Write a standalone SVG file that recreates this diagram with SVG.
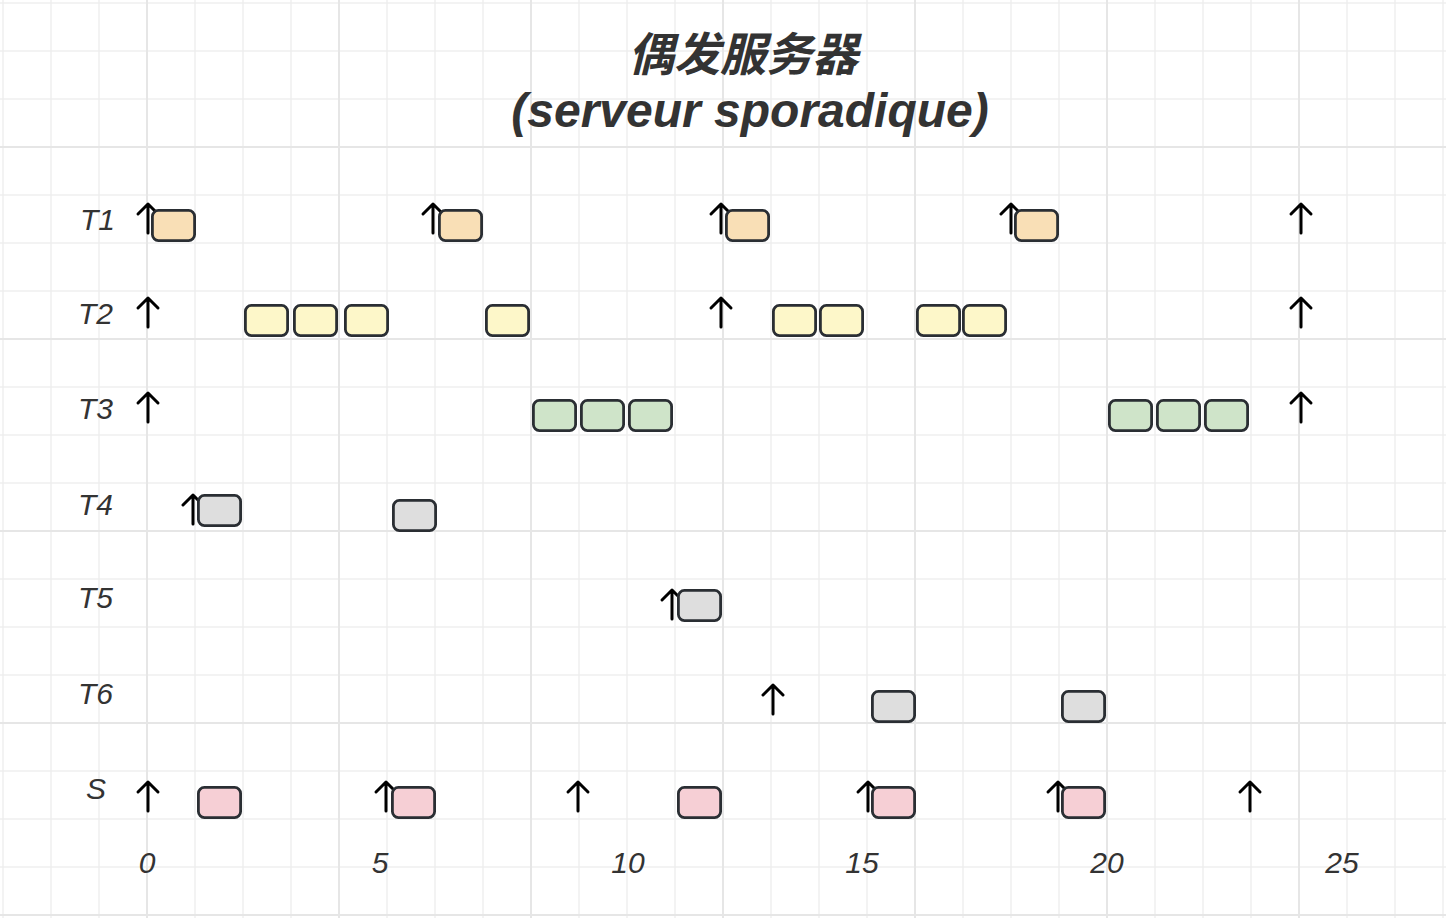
<svg xmlns="http://www.w3.org/2000/svg" width="1446" height="918" viewBox="0 0 1446 918">
<style>
.minor{stroke:#efefef;stroke-width:1.5;fill:none}
.major{stroke:#e6e6e6;stroke-width:2;fill:none}
.box{stroke:#2a2e33;stroke-width:2.8}
.o{fill:#f9dfb6}.y{fill:#fdf7c9}.g{fill:#cfe4c9}.k{fill:#dedede}.p{fill:#f6cfd5}
.arr{stroke:#000;stroke-width:3;fill:none;stroke-linecap:round;stroke-linejoin:round}
.lbl{font-family:"Liberation Sans",Arial,sans-serif;font-style:italic;font-size:30px;fill:#333}
.title{font-family:"Liberation Sans","Noto Sans CJK SC",sans-serif;font-style:italic;font-weight:bold;font-size:46px;fill:#333;text-anchor:middle}
.sub{font-size:48px}
</style>
<defs>
<rect id="b" class="box" x="1.4" y="1.4" width="42.2" height="30.2" rx="6"/>
<path id="a" d="M0 29V0M-10 10L0 0L10 10"/>
</defs>
<rect width="1446" height="918" fill="#fff"/>
<g id="grid">
<path class="minor" d="M3 0V918M51 0V918M99 0V918M195 0V918M243 0V918M291 0V918M387 0V918M435 0V918M483 0V918M579 0V918M627 0V918M675 0V918M771 0V918M819 0V918M867 0V918M963 0V918M1011 0V918M1059 0V918M1155 0V918M1203 0V918M1251 0V918M1347 0V918M1395 0V918M1443 0V918M0 3H1446M0 51H1446M0 99H1446M0 195H1446M0 243H1446M0 291H1446M0 387H1446M0 435H1446M0 483H1446M0 579H1446M0 627H1446M0 675H1446M0 771H1446M0 819H1446M0 867H1446"/>
<path class="major" d="M147 0V918M339 0V918M531 0V918M723 0V918M915 0V918M1107 0V918M1299 0V918M0 147H1446M0 339H1446M0 531H1446M0 723H1446M0 915H1446"/>
</g>
<g id="title">
<text class="title" x="743" y="71">偶发服务器</text>
<text class="title sub" x="750" y="127">(serveur sporadique)</text>
</g>
<g id="row-labels" class="lbl">
<text x="80" y="230">T1</text>
<text x="78" y="324">T2</text>
<text x="78" y="419">T3</text>
<text x="78" y="515">T4</text>
<text x="78" y="608">T5</text>
<text x="78" y="704">T6</text>
<text x="86" y="799">S</text>
</g>
<g id="axis" class="lbl" text-anchor="middle">
<text x="147" y="873">0</text>
<text x="380" y="873">5</text>
<text x="628" y="873">10</text>
<text x="862" y="873">15</text>
<text x="1107" y="873">20</text>
<text x="1342" y="873">25</text>
</g>
<g id="connectors" class="arr">
<use href="#a" x="148" y="204"/><use href="#a" x="433" y="204"/><use href="#a" x="721" y="204"/><use href="#a" x="1011" y="204"/><use href="#a" x="1301" y="204"/>
<use href="#a" x="148" y="298"/><use href="#a" x="721" y="298"/><use href="#a" x="1301" y="298"/>
<use href="#a" x="148" y="393"/><use href="#a" x="1301" y="393"/>
<use href="#a" x="193" y="495"/>
<use href="#a" x="672" y="590"/>
<use href="#a" x="773" y="685"/>
<use href="#a" x="148" y="782"/><use href="#a" x="386" y="782"/><use href="#a" x="578" y="782"/><use href="#a" x="868" y="782"/><use href="#a" x="1058" y="782"/><use href="#a" x="1250" y="782"/>
</g>
<g id="T1-1" class="o"><use href="#b" x="151" y="209"/></g>
<g id="T1-2" class="o"><use href="#b" x="438" y="209"/></g>
<g id="T1-3" class="o"><use href="#b" x="725" y="209"/></g>
<g id="T1-4" class="o"><use href="#b" x="1014" y="209"/></g>
<g id="T2-1" class="y"><use href="#b" x="244" y="304"/></g>
<g id="T2-2" class="y"><use href="#b" x="293" y="304"/></g>
<g id="T2-3" class="y"><use href="#b" x="344" y="304"/></g>
<g id="T2-4" class="y"><use href="#b" x="485" y="304"/></g>
<g id="T2-5" class="y"><use href="#b" x="772" y="304"/></g>
<g id="T2-6" class="y"><use href="#b" x="819" y="304"/></g>
<g id="T2-7" class="y"><use href="#b" x="916" y="304"/></g>
<g id="T2-8" class="y"><use href="#b" x="962" y="304"/></g>
<g id="T3-1" class="g"><use href="#b" x="532" y="399"/></g>
<g id="T3-2" class="g"><use href="#b" x="580" y="399"/></g>
<g id="T3-3" class="g"><use href="#b" x="628" y="399"/></g>
<g id="T3-4" class="g"><use href="#b" x="1108" y="399"/></g>
<g id="T3-5" class="g"><use href="#b" x="1156" y="399"/></g>
<g id="T3-6" class="g"><use href="#b" x="1204" y="399"/></g>
<g id="T4-1" class="k"><use href="#b" x="197" y="494"/></g>
<g id="T4-2" class="k"><use href="#b" x="392" y="499"/></g>
<g id="T5-1" class="k"><use href="#b" x="677" y="589"/></g>
<g id="T6-1" class="k"><use href="#b" x="871" y="690"/></g>
<g id="T6-2" class="k"><use href="#b" x="1061" y="690"/></g>
<g id="S-1" class="p"><use href="#b" x="197" y="786"/></g>
<g id="S-2" class="p"><use href="#b" x="391" y="786"/></g>
<g id="S-3" class="p"><use href="#b" x="677" y="786"/></g>
<g id="S-4" class="p"><use href="#b" x="871" y="786"/></g>
<g id="S-5" class="p"><use href="#b" x="1061" y="786"/></g>
</svg>
